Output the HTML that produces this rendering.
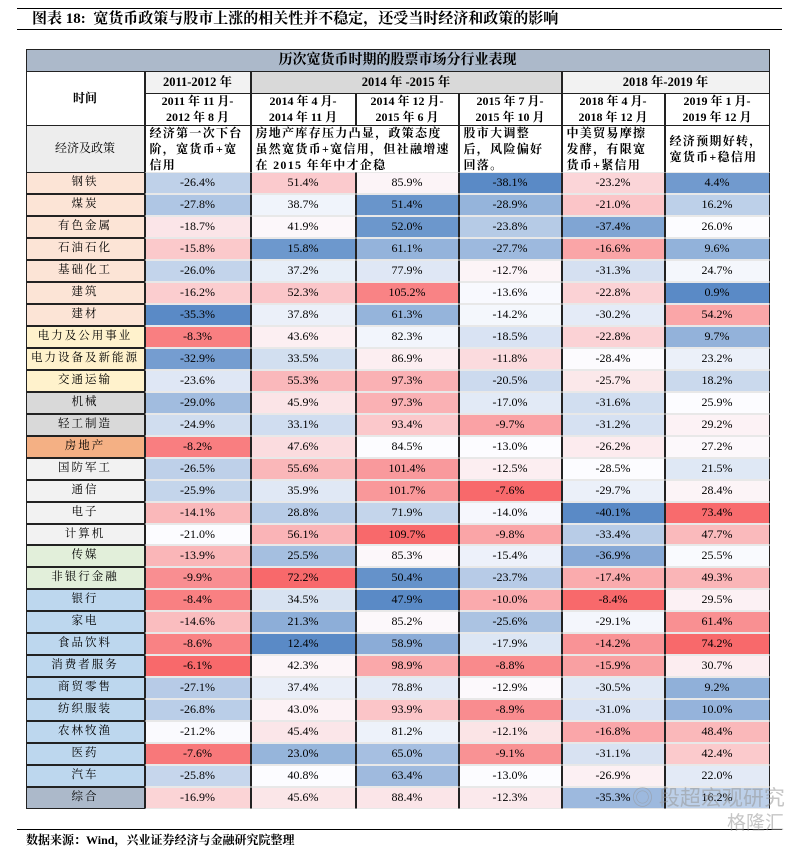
<!DOCTYPE html>
<html><head><meta charset="utf-8">
<style>
body{margin:0;width:811px;height:846px;background:#fff;position:relative;overflow:hidden;font-family:"Liberation Serif","Noto Serif CJK SC",serif;color:#000}
.c{position:absolute;box-sizing:border-box;display:flex;align-items:center;justify-content:center;text-align:center;font-size:12.5px;line-height:17px}
.hl{position:absolute;height:0;border-top:1.5px solid #000}
</style></head><body>
<div class="hl" style="left:17px;top:8px;width:765px"></div>
<div style="position:absolute;left:32px;top:9px;font-size:15px;font-weight:bold;line-height:20px">图表 18:&nbsp; 宽货币政策与股市上涨的相关性并不稳定，还受当时经济和政策的影响</div>
<div class="hl" style="left:17px;top:29px;width:765px;border-top-width:1px"></div>
<div id="tbl"></div>
<div class="hl" style="left:17px;top:829px;width:765px;border-top-width:1px"></div>
<div style="position:absolute;left:26px;top:831px;font-size:12px;font-weight:bold">数据来源：Wind，兴业证券经济与金融研究院整理</div>
<div style="position:absolute;left:632px;top:787px;font-size:21px;color:rgba(150,150,150,0.55);font-family:'Liberation Sans','Noto Sans CJK SC',sans-serif;line-height:24px">◎ 段超宏观研究<br><span style="margin-left:95px;font-size:19px">格隆汇</span></div>
<script>
const rowsLabels=["钢铁","煤炭","有色金属","石油石化","基础化工","建筑","建材","电力及公用事业","电力设备及新能源","交通运输","机械","轻工制造","房地产","国防军工","通信","电子","计算机","传媒","非银行金融","银行","家电","食品饮料","消费者服务","商贸零售","纺织服装","农林牧渔","医药","汽车","综合"];
const periodLabels=["2011 年 11 月-2012 年 8 月","2014 年 4 月-2014 年 11 月","2014 年 12 月-2015 年 6 月","2015 年 7 月-2015 年 10 月","2018 年 4 月-2018 年 12 月","2019 年 1 月-2019 年 12 月"];
const s1=[-26.4,-27.8,-18.7,-15.8,-26.0,-16.2,-35.3,-8.3,-32.9,-23.6,-29.0,-24.9,-8.2,-26.5,-25.9,-14.1,-21.0,-13.9,-9.9,-8.4,-14.6,-8.6,-6.1,-27.1,-26.8,-21.2,-7.6,-25.8,-16.9];
const s2=[51.4,38.7,41.9,15.8,37.2,52.3,37.8,43.6,33.5,55.3,45.9,33.1,47.6,55.6,35.9,28.8,56.1,25.5,72.2,34.5,21.3,12.4,42.3,37.4,43.0,45.4,23.0,40.8,45.6];
const s3=[85.9,51.4,52.0,61.1,77.9,105.2,61.3,82.3,86.9,97.3,97.3,93.4,84.5,101.4,101.7,71.9,109.7,85.3,50.4,47.9,85.2,58.9,98.9,78.8,93.9,81.2,65.0,63.4,88.4];
const s4=[-38.1,-28.9,-23.8,-27.7,-12.7,-13.6,-14.2,-18.5,-11.8,-20.5,-17.0,-9.7,-13.0,-12.5,-7.6,-14.0,-9.8,-15.4,-23.7,-10.0,-25.6,-17.9,-8.8,-12.9,-8.9,-12.1,-9.1,-13.0,-12.3];
const s5=[-23.2,-21.0,-37.4,-16.6,-31.3,-22.8,-30.2,-22.8,-28.4,-25.7,-31.6,-31.2,-26.2,-28.5,-29.7,-40.1,-33.4,-36.9,-17.4,-8.4,-29.1,-14.2,-15.9,-30.5,-31.0,-16.8,-31.1,-26.9,-35.3];
const s6=[4.4,16.2,26.0,9.6,24.7,0.9,54.2,9.7,23.2,18.2,25.9,29.2,27.2,21.5,28.4,73.4,47.7,25.5,49.3,29.5,61.4,74.2,30.7,9.2,10.0,48.4,42.4,22.0,16.2];
const series=[s1,s2,s3,s4,s5,s6];
const labelBg=["#fce4d6","#fce4d6","#fce4d6","#fce4d6","#fce4d6","#fce4d6","#fce4d6","#fff2cc","#fff2cc","#fff2cc","#d9d9d9","#d9d9d9","#f4b084","#f2f2f2","#f2f2f2","#f2f2f2","#f2f2f2","#e2efda","#e2efda","#bdd7ee","#bdd7ee","#bdd7ee","#bdd7ee","#bdd7ee","#bdd7ee","#bdd7ee","#bdd7ee","#bdd7ee","#acb9ca"];

const X=[26,145,251,356,459,562,665,770];
const T=document.getElementById('tbl');
function cell(x,y,w,h,html,bg,extra){
  const d=document.createElement('div');
  d.className='c';
  d.style.cssText=`left:${x}px;top:${y}px;width:${w}px;height:${h}px;background:${bg};border:1px solid #222;margin:-0.5px 0 0 -0.5px;`+(extra||'');
  d.innerHTML=html;T.appendChild(d);return d;
}
function median(a){const b=[...a].sort((p,q)=>p-q);const n=b.length;return n%2?b[(n-1)/2]:(b[n/2-1]+b[n/2])/2;}
function mix(c1,c2,t){return 'rgb('+c1.map((v,i)=>Math.round(v+(c2[i]-v)*t)).join(',')+')';}
const BLUE=[90,138,198],WHITE=[252,252,255],RED=[248,105,107];
function colorScale(arr){
  const mn=Math.min(...arr),mx=Math.max(...arr),md=median(arr);
  return v=>v<=md?mix(BLUE,WHITE,(v-mn)/(md-mn||1)):mix(WHITE,RED,(v-md)/(mx-md||1));
}
let e;
e=cell(26,49,744,23,'历次宽货币时期的股票市场分行业表现','#acb9ca','font-size:14px;font-weight:bold;');

e=cell(26,71,119,55,'时间','#fff','font-weight:bold;font-size:12px;');

e=cell(145,71,106,23,'2011-2012 年','#f2f2f2','font-weight:bold;');

e=cell(251,71,311,23,'2014 年 -2015 年','#d9d9d9','font-weight:bold;');

e=cell(562,71,208,23,'2018 年-2019 年','#f2f2f2','font-weight:bold;');

periodLabels.forEach((p,i)=>{
  const parts=p.split('-');
  const el=cell(X[i+1],93,X[i+2]-X[i+1],33,parts[0]+'-<br>'+parts[1],'#fff','font-weight:bold;line-height:16px;font-size:12px;');
  
  
});
e=cell(26,125,119,48,'经济及政策','#ededed','font-size:12px;');

const pol=[[145,106,'经济第一次下台阶，宽货币+宽信用'],[251,208,'房地产库存压力凸显，政策态度虽然宽货币+宽信用，但社融增速在 2015 年年中才企稳'],[459,103,'股市大调整后，风险偏好回落。'],[562,103,'中美贸易摩擦发酵，有限宽货币+紧信用'],[665,105,'经济预期好转，宽货币+稳信用']];
pol.forEach(p=>{
  const el=cell(p[0],125,p[1],48,p[2],'#fff','font-weight:bold;justify-content:flex-start;text-align:left;padding:0 4px;font-size:12px;line-height:16px;letter-spacing:1.3px;');
  
  
});
const Y0=172,RH=21.97;
const scales=series.map(colorScale);
rowsLabels.forEach((lab,r)=>{
  const y=Math.round(Y0+r*RH),h=Math.round(Y0+(r+1)*RH)-y;
  const l=cell(26,y,119,h,lab,labelBg[r],'font-size:11.5px;letter-spacing:2px;');
  
  
  series.forEach((s,c)=>{
    const v=s[r];
    const d=cell(X[c+1],y,X[c+2]-X[c+1],h,v.toFixed(1)+'%',scales[c](v),'border-top-color:#e8e8e8;border-bottom-color:#e8e8e8;font-size:12px;');
    
    
  });
});
</script>
</body></html>
